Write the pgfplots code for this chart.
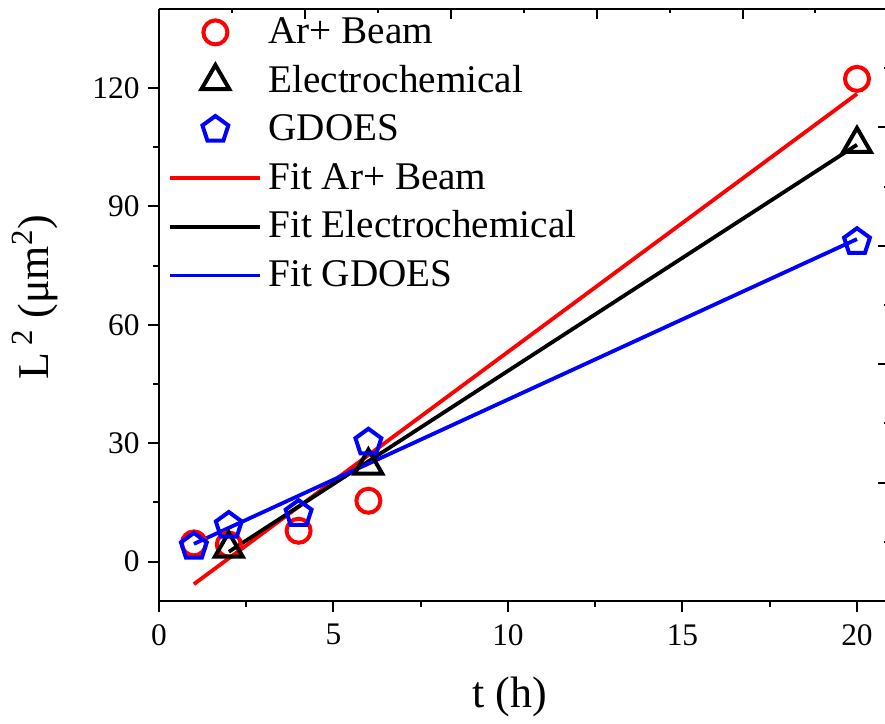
\documentclass[border=0pt]{standalone}
\usepackage{fontspec}
\setmainfont{Liberation Serif}
\usepackage{pgfplots}
\pgfplotsset{compat=1.18}
\usetikzlibrary{plotmarks}

% measured squared depth L^2 (um^2) against time t (h)
\pgfplotstableread{
t    L2
1    4.6
2    4.3
4    7.8
6    15.4
20   122.3
}\argon
\pgfplotstableread{
t    L2
2    3.3
6    24.3
20   105.8
}\electro
\pgfplotstableread{
t    L2
1    3.8
2    9.1
4    12.1
6    30.2
20   81.0
}\gdoes

\pgfplotsset{
  markleg/.style={legend image code/.code={%
      \path (0pt,0pt) (45pt,0pt);
      \draw[##1] plot coordinates {(22.5pt,0pt)};}},
  lineleg/.style={legend image code/.code={%
      \draw[##1] (0pt,0pt) -- (45pt,0pt);}},
}

\begin{document}
\begin{tikzpicture}
\begin{axis}[
  name=main,
  scale only axis, width=364.7pt, height=296pt,
  xmin=0, xmax=20.9, ymin=-10, ymax=140,
  axis x line*=bottom, axis y line*=left,
  axis line style={line width=1pt},
  xtick={0,5,...,20}, ytick={0,30,...,120},
  minor x tick num=1, minor y tick num=1,
  tick align=outside,
  major tick length=5.5pt, minor tick length=2.75pt,
  tick style={line width=1pt, black},
  /pgf/number format/assume math mode=true,
  tick label style={font=\fontsize{15.7}{15.7}\selectfont, inner sep=0pt},
  yticklabel style={xshift=-4pt},
  xticklabel style={yshift=-6pt},
  xlabel={t (h)},
  ylabel={L\,\textsuperscript{2} (μm\textsuperscript{2})},
  label style={font=\fontsize{22}{22}\selectfont},
  xlabel style={at={(axis description cs:0.481,-0.162)}, anchor=center},
  ylabel style={at={(axis description cs:-0.17,0.513)}, anchor=center},
  legend cell align=left,
  legend style={draw=none, fill=none, at={(axis description cs:0,1)},
    anchor=north west, xshift=4.5pt, yshift=-3pt, inner sep=0pt,
    row sep=7.3pt, column sep=3pt,
    font=\fontsize{19.6}{19.6}\selectfont,
    nodes={inner sep=0pt, text height=14pt, text depth=3pt}},
]
\addplot[only marks, red, mark=o, mark size=6pt, line width=2pt, markleg]
  table[x=t, y=L2] {\argon};
\addlegendentry{Ar+ Beam}
\addplot[only marks, black, mark=triangle, mark size=8pt, line width=2pt, markleg]
  table[x=t, y=L2] {\electro};
\addlegendentry{Electrochemical}
\addplot[only marks, blue, mark=pentagon, mark size=6.8pt, line width=2pt, markleg]
  table[x=t, y=L2] {\gdoes};
\addlegendentry{GDOES}

% linear fits
\addplot[red, line width=1.9pt, lineleg] coordinates {(1,-5.73) (20,118.5)};
\addlegendentry{Fit Ar+ Beam}
\addplot[black, line width=1.9pt, lineleg] coordinates {(2,2.47) (20,105.6)};
\addlegendentry{Fit Electrochemical}
\addplot[blue, line width=1.9pt, lineleg] coordinates {(1,4.47) (20,81.7)};
\addlegendentry{Fit GDOES}
\end{axis}

% top and right frame with its own tick spacing
\begin{axis}[
  scale only axis, width=364.7pt, height=296pt,
  xmin=0, xmax=25, ymin=0, ymax=150,
  axis x line*=top, axis y line*=right,
  axis line style={line width=1pt},
  xtick={0,5,...,25}, ytick={0,30,...,150},
  minor x tick num=1, minor y tick num=1,
  xticklabels={}, yticklabels={},
  tick align=inside,
  major tick length=5pt, minor tick length=2.25pt,
  tick style={line width=1pt, black},
]
\end{axis}

\pgfresetboundingbox
\path[use as bounding box] ([shift={(-79.5pt,-61.5pt)}]main.south west)
  rectangle ([shift={(363pt,300.5pt)}]main.south west);
\end{tikzpicture}
\end{document}
